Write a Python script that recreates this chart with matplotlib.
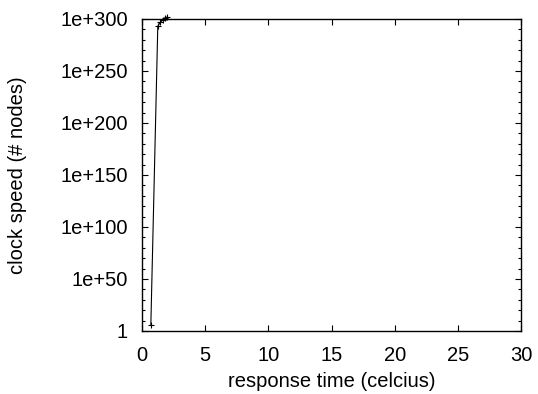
import matplotlib
matplotlib.use("Agg")
import matplotlib.pyplot as plt
import numpy as np
from matplotlib.ticker import FixedLocator, FixedFormatter

x_vals = [0.7, 1.25, 1.45, 1.65, 1.85, 2.0]
y_vals = [1e6, 1e293, 1e297, 1e299, 1e301, 1e302]

ytick_vals = [1e0, 1e50, 1e100, 1e150, 1e200, 1e250, 1e300]
ytick_labels = ["1", "1e+50", "1e+100", "1e+150", "1e+200", "1e+250", "1e+300"]
xtick_vals = [0, 5, 10, 15, 20, 25, 30]

plt.rcParams['font.family'] = ['Liberation Sans', 'DejaVu Sans']

fig = plt.figure(figsize=(5.38, 3.94), dpi=100)
ax = fig.add_axes([142/538, 1 - 331/394, (521-142)/538, (331-19)/394])
ax.plot(x_vals, y_vals, color='black', lw=0.8, marker='+', ms=5, mew=0.8, clip_on=False)
ax.set_yscale('log')
ax.set_xlim(0, 30)
ax.set_ylim(1e0, 1e300)
ax.yaxis.set_major_locator(FixedLocator(ytick_vals))
ax.yaxis.set_major_formatter(FixedFormatter(ytick_labels))
ax.yaxis.set_minor_locator(FixedLocator([10.0**k for k in range(10, 300, 10) if k % 50 != 0]))
ax.yaxis.set_minor_formatter(FixedFormatter([]))
ax.set_xticks(xtick_vals)
ax.set_xticklabels([str(v) for v in xtick_vals])
ax.tick_params(direction='in', top=True, right=True, which='both', labelsize=14.5, length=4, width=0.8)
ax.tick_params(axis='y', pad=10)
ax.tick_params(axis='x', pad=11)
ax.tick_params(which='minor', length=2.5)
for s in ax.spines.values():
    s.set_linewidth(1.0)
ax.set_xlabel("response time (celcius)", fontsize=14.5, labelpad=5)
ax.set_ylabel("clock speed (# nodes)", fontsize=14.5, labelpad=24)
fig.savefig("out.png", dpi=100)
